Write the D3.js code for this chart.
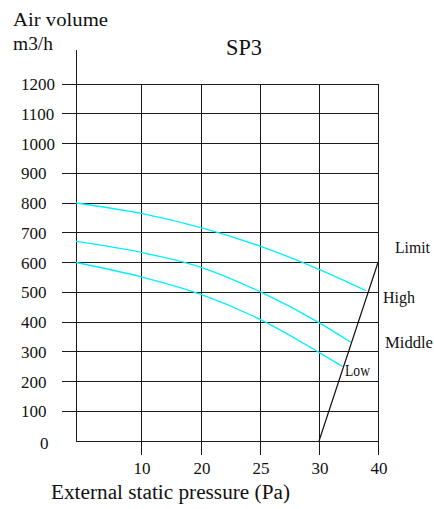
<!DOCTYPE html>
<html>
<head>
<meta charset="utf-8">
<script src="https://cdn.jsdelivr.net/npm/d3@7"></script>
<style>
  body { margin: 0; background: #fff; }
  text { font-family: "Liberation Serif", "DejaVu Serif", serif; fill: #111; }
</style>
</head>
<body>
<div id="chart"></div>
<script>
// tick values
var xTicks = [0, 10, 20, 25, 30, 40];
var yTicks = [100, 200, 300, 400, 500, 600, 700, 800, 900, 1000, 1100, 1200];

// fan curves: [pressure, airflow]
var high   = [[0, 800], [10, 765], [20, 717], [25, 655], [30, 577], [38, 505]];
var middle = [[0, 671], [10, 634], [20, 584], [25, 502], [30, 398], [35.4, 332]];
var low    = [[0, 600], [10, 552], [20, 493], [25, 409], [30, 298], [34, 250]];
var limit  = [[30, 0], [40, 600]];

var width = 434, height = 509;

var svg = d3.select("#chart").append("svg")
    .attr("width", width)
    .attr("height", height);

// the x axis is not evenly spaced in the original, so use a piecewise scale
var x = d3.scaleLinear().domain(xTicks).range([76, 141, 201, 260, 319, 378]);
var y = d3.scaleLinear().domain([0, 1200]).range([441, 84]);

var grid = svg.append("g")
    .attr("stroke", "#1a1a1a")
    .attr("stroke-width", 1)
    .attr("shape-rendering", "crispEdges");

// horizontal grid lines with ticks sticking out left
grid.selectAll(".h").data(yTicks).enter().append("line")
    .attr("x1", 62).attr("x2", x(40))
    .attr("y1", function(d) { return y(d); })
    .attr("y2", function(d) { return y(d); });

// vertical grid lines, extending below the axis
grid.selectAll(".v").data(xTicks.slice(1)).enter().append("line")
    .attr("x1", function(d) { return x(d); })
    .attr("x2", function(d) { return x(d); })
    .attr("y1", y(1200)).attr("y2", y(0) + 14);

// axes
grid.append("line").attr("x1", x(0)).attr("x2", x(0)).attr("y1", 50).attr("y2", y(0));
grid.append("line").attr("x1", x(0)).attr("x2", x(40)).attr("y1", y(0)).attr("y2", y(0));

// y labels
svg.selectAll(".yl").data(yTicks).enter().append("text")
    .attr("x", 21)
    .attr("y", function(d) { return y(d) + 6; })
    .attr("font-size", 17)
    .text(function(d) { return d; });
svg.append("text").attr("x", 40).attr("y", y(0) + 8).attr("font-size", 17).text("0");

// x labels
svg.selectAll(".xl").data(xTicks.slice(1)).enter().append("text")
    .attr("x", function(d) { return x(d) + 1; })
    .attr("y", 474)
    .attr("text-anchor", "middle")
    .attr("font-size", 17)
    .text(function(d) { return d; });

// curves
var line = d3.line()
    .x(function(d) { return x(d[0]); })
    .y(function(d) { return y(d[1]); })
    .curve(d3.curveMonotoneX);

[high, middle, low].forEach(function(s) {
    svg.append("path")
        .datum(s)
        .attr("fill", "none")
        .attr("stroke", "#00f0ff")
        .attr("stroke-width", 1.3)
        .attr("d", line);
});

svg.append("path")
    .datum(limit)
    .attr("fill", "none")
    .attr("stroke", "#111")
    .attr("stroke-width", 1.2)
    .attr("d", d3.line().x(function(d) { return x(d[0]); }).y(function(d) { return y(d[1]); }));

// texts
function label(t, px, py, size, len) {
    var el = svg.append("text").attr("x", px).attr("y", py).attr("font-size", size).text(t);
    if (len) el.attr("textLength", len).attr("lengthAdjust", "spacingAndGlyphs");
    return el;
}
label("Air volume", 13, 26, 19, 95);
label("m3/h", 13, 50, 19, 40);
label("SP3", 226, 55, 24, 36);
label("External static pressure (Pa)", 51, 499, 20, 239);
label("Limit", 395, 253, 17, 35);
label("High", 383, 303, 17, 32);
label("Middle", 385, 348, 17, 48);
label("Low", 345, 376, 17, 25);
</script>
</body>
</html>
